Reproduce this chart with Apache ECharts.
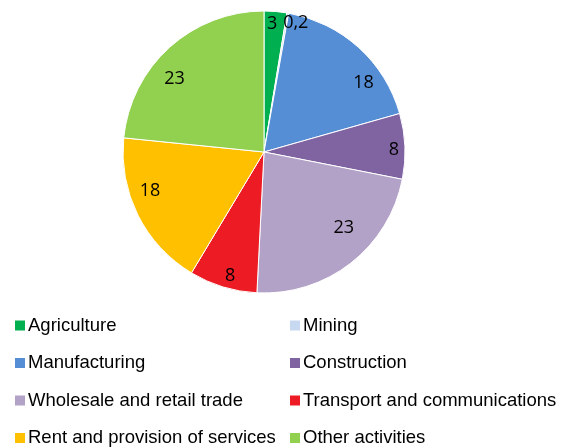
<!DOCTYPE html>
<html lang="en">
<head>
  <meta charset="UTF-8">
  <title>sectors pie</title>
  <style>
    html, body { margin: 0; padding: 0; background: #fff; }
    #chart { width: 572px; height: 447px; }
  </style>
</head>
<body>
  <div id="chart"></div>
  <script src="https://cdn.jsdelivr.net/npm/echarts@6/dist/echarts.min.js"></script>
  <script>
    var sectors = ['Agriculture', 'Mining', 'Manufacturing', 'Construction',
      'Wholesale and retail trade', 'Transport and communications',
      'Rent and provision of services', 'Other activities']
    // shares in % (labels show them rounded)
    var shares = [2.6, 0.2, 17.8, 7.5, 22.7, 7.8, 18, 23.4]
    var colors = ['#00B050', '#C6D9F1', '#558ED5', '#8064A2', '#B3A2C7', '#ED1C24', '#FFC000', '#92D050']
    // label nudges, the original places them "best fit"
    var labelNudge = [[-2, -6], [11, -8], [17, 22], [7, 3], [4, -21], [2, 6], [-4, -16], [-7, 18]]

    var fmt = function (v) {
      return v < 1 ? String(v).replace('.', ',') : String(Math.round(v))
    }

    var pieData = sectors.map(function (name, i) {
      return { name: name, value: shares[i], itemStyle: { color: colors[i] } }
    })
    var labelData = sectors.map(function (name, i) {
      return { name: name, value: shares[i], label: { offset: labelNudge[i] } }
    })

    var legendBase = {
      orient: 'vertical',
      top: 316,
      height: 200,
      padding: 0,
      itemWidth: 12,
      itemHeight: 12,
      itemGap: 18.5,
      icon: 'rect',
      selectedMode: false,
      textStyle: { fontFamily: 'Liberation Sans', fontSize: 18.5, color: '#000', lineHeight: 18, padding: [0, 0, 0, -3] }
    }

    var option = {
      animation: false,
      legend: [
        Object.assign({}, legendBase, { left: 13, data: sectors.filter(function (s, i) { return i % 2 === 0 }) }),
        Object.assign({}, legendBase, { left: 288, data: sectors.filter(function (s, i) { return i % 2 === 1 }) })
      ],
      series: [
        {
          type: 'pie',
          center: [264, 152],
          radius: [0, 141],
          startAngle: 90,
          clockwise: true,
          silent: true,
          label: { show: false },
          labelLine: { show: false },
          itemStyle: { borderColor: '#fff', borderWidth: 1 },
          data: pieData
        },
        {
          type: 'pie',
          center: [264, 152],
          radius: [99, 141],
          startAngle: 90,
          clockwise: true,
          silent: true,
          itemStyle: { color: 'rgba(0,0,0,0)', borderWidth: 0 },
          label: {
            show: true,
            position: 'inside',
            fontFamily: 'Open Sans',
            fontSize: 18,
            color: '#000',
            formatter: function (p) { return fmt(p.value) }
          },
          labelLine: { show: false },
          data: labelData
        }
      ]
    }

    var chart = echarts.init(document.getElementById('chart'))
    chart.setOption(option)
  </script>
</body>
</html>
